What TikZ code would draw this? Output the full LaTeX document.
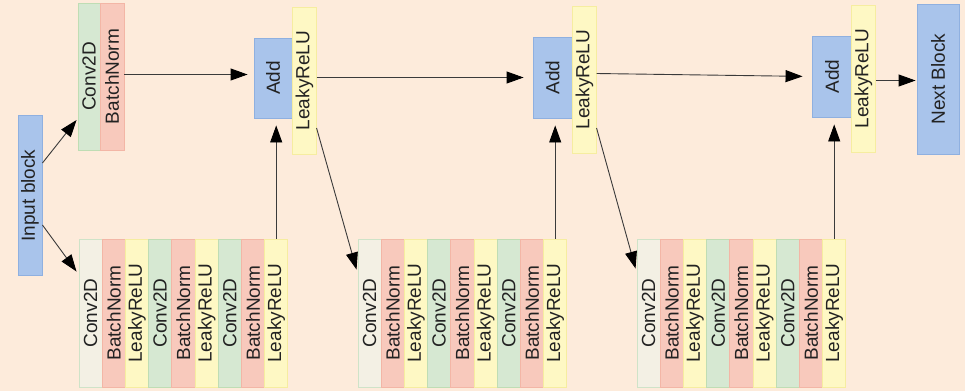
\documentclass[tikz,border=0pt]{standalone}
\usepackage{fontspec}
\setmainfont{Liberation Sans}
\usetikzlibrary{arrows.meta}
\definecolor{bgc}{HTML}{FDEBDB}
\definecolor{bluef}{HTML}{A9C4EB}
\definecolor{blued}{HTML}{8FB0E0}
\definecolor{greenf}{HTML}{D6E8D2}
\definecolor{greend}{HTML}{BFDDB4}
\definecolor{redf}{HTML}{F8C9BC}
\definecolor{redd}{HTML}{F3B6A6}
\definecolor{yelf}{HTML}{FEF8C4}
\definecolor{yeld}{HTML}{F6EDA0}
\definecolor{creamf}{HTML}{F3F0E4}
\definecolor{creamd}{HTML}{CFE3C8}
\definecolor{txtc}{HTML}{222222}
\definecolor{linec}{HTML}{3A3A3A}
\newcommand{\vlbl}[1]{\rotatebox{90}{#1}}
\tikzset{
  box/.style={rectangle, line width=0.9pt, inner sep=0pt, text=txtc,
    font=\fontsize{19}{19}\selectfont},
  bluebox/.style={box, fill=bluef, draw=blued},
  greenbox/.style={box, fill=greenf, draw=greend},
  redbox/.style={box, fill=redf, draw=redd},
  yelbox/.style={box, fill=yelf, draw=yeld},
  tall/.style={minimum width=23.2pt, minimum height=147pt},
  arr/.style={draw=linec, line width=0.9pt, -{Triangle[length=17pt,width=12pt,color=black]}}
}
\begin{document}
\begin{tikzpicture}[x=1pt,y=-1pt]
\fill[bgc] (0,0) rectangle (965,391);
\useasboundingbox (0,0) rectangle (965,391);

% input block
\node[bluebox, minimum width=24pt, minimum height=160pt] (in) at (30,195.5) {\vlbl{Input block}};

% shortcut branch
\node[greenbox, minimum width=22pt, minimum height=147pt] (c0) at (89,76.5) {\vlbl{Conv2D}};
\node[redbox, minimum width=24pt, minimum height=147pt] (b0) at (112,76.5) {\vlbl{BatchNorm}};

% add / relu units
\node[bluebox, minimum width=38pt, minimum height=80pt] (add1) at (273,78) {\vlbl{Add}};
\node[yelbox, tall] (lr1) at (304.5,80.5) {\vlbl{LeakyReLU}};
\node[bluebox, minimum width=39pt, minimum height=81pt] (add2) at (552.5,77.5) {\vlbl{Add}};
\node[yelbox, tall] (lr2) at (584.5,79.5) {\vlbl{LeakyReLU}};
\node[bluebox, minimum width=40pt, minimum height=81pt] (add3) at (832,76.5) {\vlbl{Add}};
\node[yelbox, tall] (lr3) at (863.5,78.5) {\vlbl{LeakyReLU}};
\node[bluebox, minimum width=42pt, minimum height=150pt] (nb) at (938,79) {\vlbl{Next Block}};

% residual stacks
\foreach \b/\x in {1/79,2/358,3/637}{
  \foreach \i/\f/\d/\t in {1/creamf/creamd/Conv2D, 2/redf/redd/BatchNorm, 3/yelf/yeld/LeakyReLU,
                          4/greenf/greend/Conv2D, 5/redf/redd/BatchNorm, 6/yelf/yeld/LeakyReLU,
                          7/greenf/greend/Conv2D, 8/redf/redd/BatchNorm, 9/yelf/yeld/LeakyReLU}{
    \node[box, fill=\f, draw=\d, minimum width=23.2pt, minimum height=148pt]
      (k\b-\i) at ({\x+(\i-0.5)*23.2},313) {\vlbl{\t}};
  }
}

% connectors
\draw[arr] ([yshift=32.5pt]in.east) -- ([yshift=-43.5pt,xshift=-1pt]c0.west);
\draw[arr] ([yshift=-29.5pt]in.east) -- ([yshift=-33pt,xshift=-2pt]k1-1.north west);
\draw[arr, shorten >=6pt] ([yshift=2pt]b0.east) -- ([yshift=2pt]b0.east -| add1.west);
\draw[arr, shorten >=7pt] (k1-9.north) -- (k1-9.north |- add1.south);
\draw[arr, shorten >=9pt] (lr1.east |- add2.west) -- (add2.west);
\draw[arr, shorten >=7pt] (k2-9.north) -- (k2-9.north |- add2.south);
\draw[arr, shorten >=9pt] ([yshift=6pt]lr2.east) -- (add3.west);
\draw[arr, shorten >=7pt] (k3-9.north) -- (k3-9.north |- add3.south);
\draw[arr, shorten >=1pt] ([yshift=-2pt]lr3.east) -- ([yshift=-2pt]lr3.east -| nb.west);
\draw[arr] ([yshift=-47.5pt]lr1.east) -- ([yshift=-31pt,xshift=-1pt]k2-1.north west);
\draw[arr] ([yshift=-48.5pt]lr2.east) -- ([yshift=-30pt,xshift=-1pt]k3-1.north west);
\end{tikzpicture}
\end{document}
